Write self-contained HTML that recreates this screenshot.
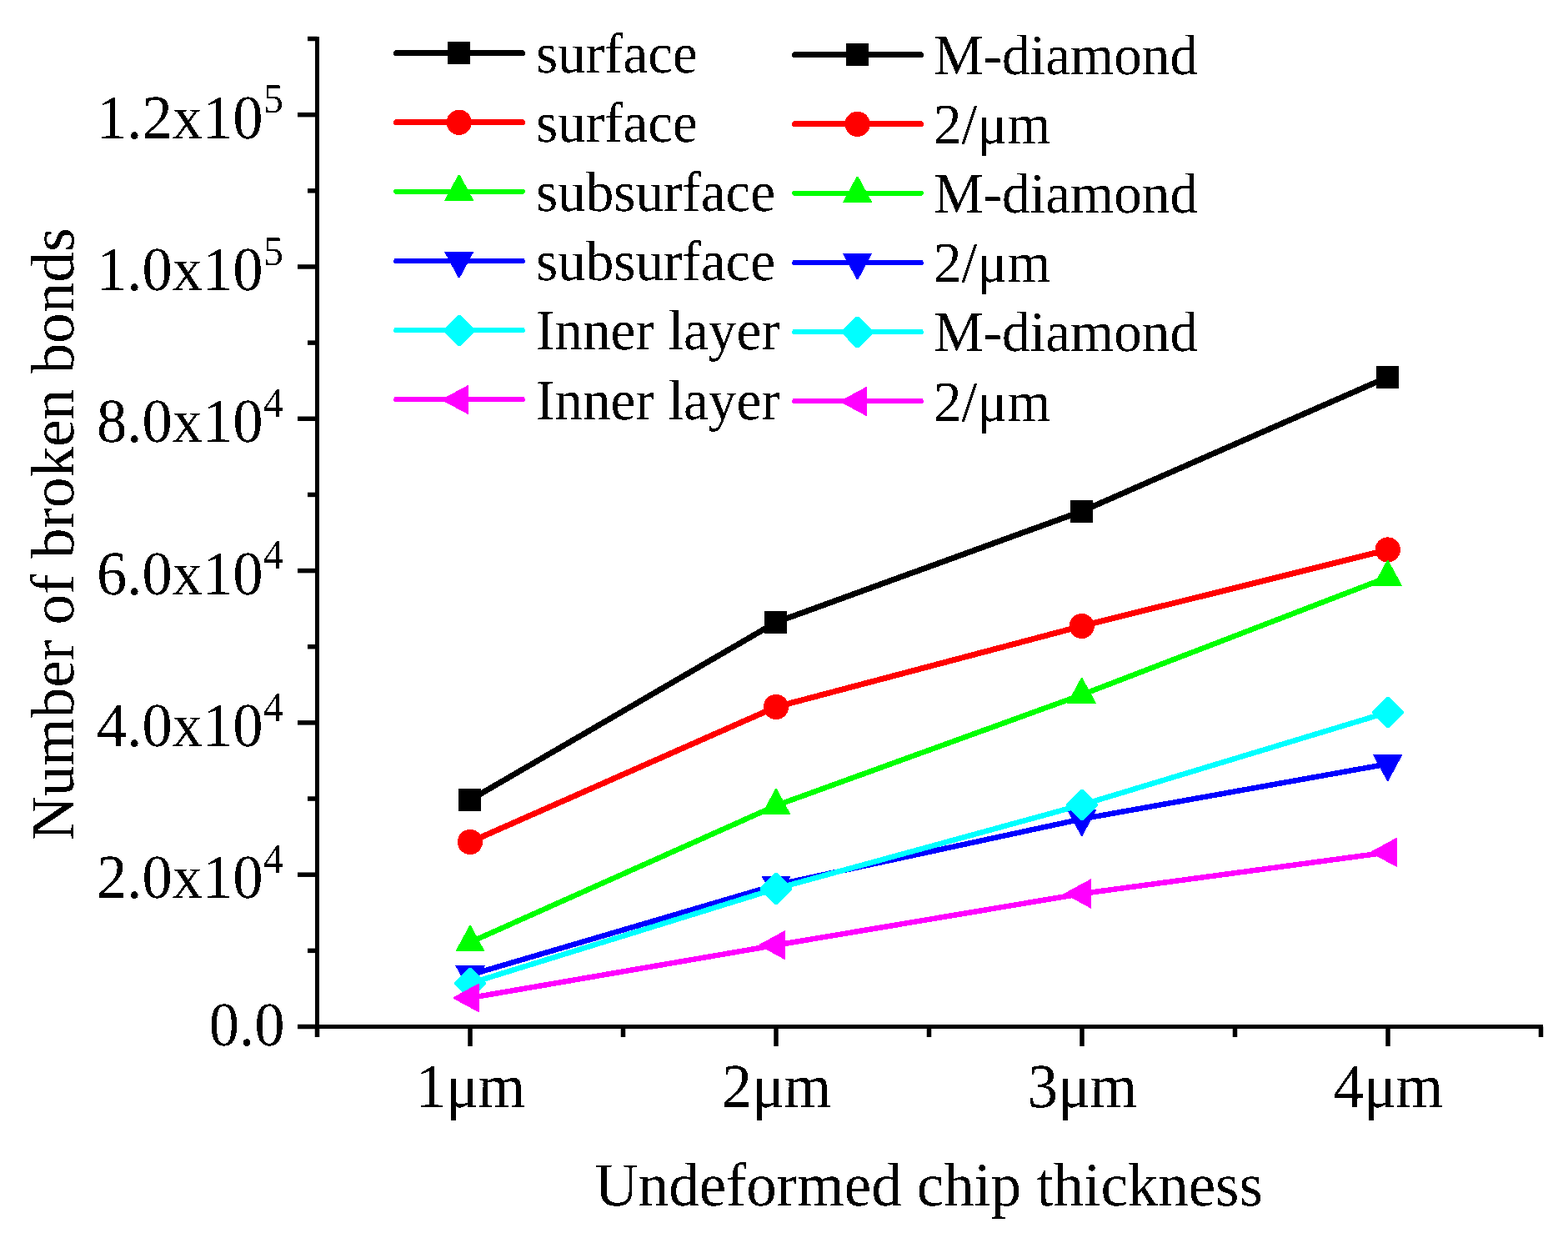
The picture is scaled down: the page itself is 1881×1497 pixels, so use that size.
<!DOCTYPE html>
<html lang="en">
<head>
<meta charset="utf-8">
<title>Number of broken bonds vs. undeformed chip thickness</title>
<style>
html,body{margin:0;padding:0;background:#ffffff;}
body{width:1881px;height:1497px;overflow:hidden;}
svg{display:block;}
text{white-space:pre;}
</style>
</head>
<body>
<svg width="1881" height="1497" viewBox="0 0 1881 1497" font-family='"Liberation Serif", "DejaVu Serif", serif' fill="#000" text-rendering="geometricPrecision">
<defs><filter id="bw" x="-5%" y="-20%" width="110%" height="140%" color-interpolation-filters="sRGB"><feComponentTransfer><feFuncA type="discrete" tableValues="0 1"/></feComponentTransfer></filter></defs>
<rect width="1881" height="1497" fill="#ffffff"/>
<g id="axes" stroke="#000" stroke-width="5" fill="none">
<line x1="380.5" y1="44.0" x2="380.5" y2="1234.0"/>
<line x1="378.0" y1="1231.5" x2="1851.0" y2="1231.5"/>
<line x1="357.0" y1="1231.50" x2="380.5" y2="1231.50" stroke-width="5.5"/>
<line x1="369.0" y1="1140.35" x2="380.5" y2="1140.35" stroke-width="5.5"/>
<line x1="357.0" y1="1049.19" x2="380.5" y2="1049.19" stroke-width="5.5"/>
<line x1="369.0" y1="958.04" x2="380.5" y2="958.04" stroke-width="5.5"/>
<line x1="357.0" y1="866.88" x2="380.5" y2="866.88" stroke-width="5.5"/>
<line x1="369.0" y1="775.73" x2="380.5" y2="775.73" stroke-width="5.5"/>
<line x1="357.0" y1="684.58" x2="380.5" y2="684.58" stroke-width="5.5"/>
<line x1="369.0" y1="593.42" x2="380.5" y2="593.42" stroke-width="5.5"/>
<line x1="357.0" y1="502.27" x2="380.5" y2="502.27" stroke-width="5.5"/>
<line x1="369.0" y1="411.12" x2="380.5" y2="411.12" stroke-width="5.5"/>
<line x1="357.0" y1="319.96" x2="380.5" y2="319.96" stroke-width="5.5"/>
<line x1="369.0" y1="228.81" x2="380.5" y2="228.81" stroke-width="5.5"/>
<line x1="357.0" y1="137.65" x2="380.5" y2="137.65" stroke-width="5.5"/>
<line x1="369.0" y1="46.50" x2="380.5" y2="46.50" stroke-width="5.5"/>
<line x1="380.50" y1="1231.5" x2="380.50" y2="1244.0" stroke-width="5.5"/>
<line x1="564.00" y1="1231.5" x2="564.00" y2="1255.0" stroke-width="5.5"/>
<line x1="747.50" y1="1231.5" x2="747.50" y2="1244.0" stroke-width="5.5"/>
<line x1="931.00" y1="1231.5" x2="931.00" y2="1255.0" stroke-width="5.5"/>
<line x1="1114.50" y1="1231.5" x2="1114.50" y2="1244.0" stroke-width="5.5"/>
<line x1="1298.00" y1="1231.5" x2="1298.00" y2="1255.0" stroke-width="5.5"/>
<line x1="1481.50" y1="1231.5" x2="1481.50" y2="1244.0" stroke-width="5.5"/>
<line x1="1665.00" y1="1231.5" x2="1665.00" y2="1255.0" stroke-width="5.5"/>
<line x1="1848.50" y1="1231.5" x2="1848.50" y2="1244.0" stroke-width="5.5"/>
</g>
<g id="data" shape-rendering="crispEdges">
<polyline points="564.0,959.5 931.0,746.4 1297.7,613.3 1664.7,452.4" fill="none" stroke="#000000" stroke-width="7.0" stroke-linejoin="round" stroke-linecap="round"/>
<rect x="550" y="946" width="27" height="27" fill="#000000"/>
<rect x="917" y="733" width="27" height="27" fill="#000000"/>
<rect x="1284" y="600" width="27" height="27" fill="#000000"/>
<rect x="1651" y="439" width="27" height="27" fill="#000000"/>
<polyline points="564.0,1010.0 931.0,848.0 1297.7,751.0 1664.7,659.5" fill="none" stroke="#ff0000" stroke-width="7.0" stroke-linejoin="round" stroke-linecap="round"/>
<circle cx="564" cy="1010" r="15.1" fill="#ff0000"/>
<circle cx="931" cy="848" r="15.1" fill="#ff0000"/>
<circle cx="1297.7" cy="751" r="15.1" fill="#ff0000"/>
<circle cx="1664.7" cy="659.5" r="15.1" fill="#ff0000"/>
<polyline points="564.0,1130.3 931.0,966.3 1297.7,833.4 1664.7,692.4" fill="none" stroke="#00ff00" stroke-width="6.5" stroke-linejoin="round" stroke-linecap="round"/>
<polygon points="563.2,1110 564.8,1110 581.7,1141.3 546.3,1141.3" fill="#00ff00"/>
<polygon points="930.2,946 931.8,946 948.7,977.3 913.3,977.3" fill="#00ff00"/>
<polygon points="1296.9,813.1 1298.5,813.1 1315.4,844.4 1280,844.4" fill="#00ff00"/>
<polygon points="1663.9,672.1 1665.5,672.1 1682.4,703.4 1647,703.4" fill="#00ff00"/>
<polyline points="564.0,1169.4 931.0,1061.5 1297.7,982.4 1664.7,916.4" fill="none" stroke="#0000ff" stroke-width="6.5" stroke-linejoin="round" stroke-linecap="round"/>
<polygon points="563.2,1189.7 564.8,1189.7 581.7,1158.4 546.3,1158.4" fill="#0000ff"/>
<polygon points="930.2,1081.8 931.8,1081.8 948.7,1050.5 913.3,1050.5" fill="#0000ff"/>
<polygon points="1296.9,1002.7 1298.5,1002.7 1315.4,971.4 1280,971.4" fill="#0000ff"/>
<polygon points="1663.9,936.7 1665.5,936.7 1682.4,905.4 1647,905.4" fill="#0000ff"/>
<polyline points="564.0,1179.5 931.0,1066.0 1297.7,965.5 1664.7,854.5" fill="none" stroke="#00ffff" stroke-width="6.5" stroke-linejoin="round" stroke-linecap="round"/>
<polygon points="562.5,1160.9 565.5,1160.9 583.2,1178.6 583.2,1180.4 565.5,1198.1 562.5,1198.1 544.8,1180.4 544.8,1178.6" fill="#00ffff"/>
<polygon points="929.5,1047.4 932.5,1047.4 950.2,1065.1 950.2,1066.9 932.5,1084.6 929.5,1084.6 911.8,1066.9 911.8,1065.1" fill="#00ffff"/>
<polygon points="1296.2,946.9 1299.2,946.9 1316.9,964.6 1316.9,966.4 1299.2,984.1 1296.2,984.1 1278.5,966.4 1278.5,964.6" fill="#00ffff"/>
<polygon points="1663.2,835.9 1666.2,835.9 1683.9,853.6 1683.9,855.4 1666.2,873.1 1663.2,873.1 1645.5,855.4 1645.5,853.6" fill="#00ffff"/>
<polyline points="564.0,1197.0 931.0,1133.7 1297.7,1072.0 1664.7,1022.4" fill="none" stroke="#ff00ff" stroke-width="6.5" stroke-linejoin="round" stroke-linecap="round"/>
<polygon points="543.7,1196.2 543.7,1197.8 575.2,1214.8 575.2,1179.2" fill="#ff00ff"/>
<polygon points="910.7,1132.9 910.7,1134.5 942.2,1151.5 942.2,1115.9" fill="#ff00ff"/>
<polygon points="1277.4,1071.2 1277.4,1072.8 1308.9,1089.8 1308.9,1054.2" fill="#ff00ff"/>
<polygon points="1644.4,1021.6 1644.4,1023.2 1675.9,1040.2 1675.9,1004.6" fill="#ff00ff"/>
</g>
<g id="legend-marks" shape-rendering="crispEdges">
<line x1="475.5" y1="63.5" x2="626.5" y2="63.5" stroke="#000000" stroke-width="7.0" stroke-linecap="round"/>
<rect x="537" y="50" width="27" height="27" fill="#000000"/>
<line x1="475.5" y1="146.5" x2="626.5" y2="146.5" stroke="#ff0000" stroke-width="7.0" stroke-linecap="round"/>
<circle cx="550.7" cy="146.8" r="15.1" fill="#ff0000"/>
<line x1="475.5" y1="229.8" x2="626.5" y2="229.8" stroke="#00ff00" stroke-width="6.5" stroke-linecap="round"/>
<polygon points="549.9,209.5 551.5,209.5 568.4,240.8 533,240.8" fill="#00ff00"/>
<line x1="475.5" y1="313.0" x2="626.5" y2="313.0" stroke="#0000ff" stroke-width="6.5" stroke-linecap="round"/>
<polygon points="549.9,333.3 551.5,333.3 568.4,302 533,302" fill="#0000ff"/>
<line x1="475.5" y1="396.0" x2="626.5" y2="396.0" stroke="#00ffff" stroke-width="6.5" stroke-linecap="round"/>
<polygon points="549.2,377.9 552.2,377.9 569.9,395.6 569.9,397.4 552.2,415.1 549.2,415.1 531.5,397.4 531.5,395.6" fill="#00ffff"/>
<line x1="475.5" y1="479.0" x2="626.5" y2="479.0" stroke="#ff00ff" stroke-width="6.5" stroke-linecap="round"/>
<polygon points="530.4,478.7 530.4,480.3 561.9,497.3 561.9,461.7" fill="#ff00ff"/>
<line x1="953.5" y1="65.5" x2="1104.5" y2="65.5" stroke="#000000" stroke-width="7.0" stroke-linecap="round"/>
<rect x="1015" y="52" width="27" height="27" fill="#000000"/>
<line x1="953.5" y1="148.5" x2="1104.5" y2="148.5" stroke="#ff0000" stroke-width="7.0" stroke-linecap="round"/>
<circle cx="1028.6" cy="148.8" r="15.1" fill="#ff0000"/>
<line x1="953.5" y1="231.8" x2="1104.5" y2="231.8" stroke="#00ff00" stroke-width="6.5" stroke-linecap="round"/>
<polygon points="1027.8,211.5 1029.4,211.5 1046.3,242.8 1010.9,242.8" fill="#00ff00"/>
<line x1="953.5" y1="315.0" x2="1104.5" y2="315.0" stroke="#0000ff" stroke-width="6.5" stroke-linecap="round"/>
<polygon points="1027.8,335.3 1029.4,335.3 1046.3,304 1010.9,304" fill="#0000ff"/>
<line x1="953.5" y1="398.0" x2="1104.5" y2="398.0" stroke="#00ffff" stroke-width="6.5" stroke-linecap="round"/>
<polygon points="1027.1,379.9 1030.1,379.9 1047.8,397.6 1047.8,399.4 1030.1,417.1 1027.1,417.1 1009.4,399.4 1009.4,397.6" fill="#00ffff"/>
<line x1="953.5" y1="481.0" x2="1104.5" y2="481.0" stroke="#ff00ff" stroke-width="6.5" stroke-linecap="round"/>
<polygon points="1008.3,480.7 1008.3,482.3 1039.8,499.3 1039.8,463.7" fill="#ff00ff"/>
</g>
<g id="legend-text">
<text transform="translate(643.00 87.00) scale(0.9800 1)" font-size="68.5" text-anchor="start" filter="url(#bw)">surface</text>
<text transform="translate(1120.00 89.00) scale(0.9800 1)" font-size="68.5" text-anchor="start" filter="url(#bw)">M-diamond</text>
<text transform="translate(643.00 170.10) scale(0.9800 1)" font-size="68.5" text-anchor="start" filter="url(#bw)">surface</text>
<text transform="translate(1120.00 172.10) scale(0.9800 1)" font-size="68.5" text-anchor="start" filter="url(#bw)">2/μm</text>
<text transform="translate(643.00 253.20) scale(0.9800 1)" font-size="68.5" text-anchor="start" filter="url(#bw)">subsurface</text>
<text transform="translate(1120.00 255.20) scale(0.9800 1)" font-size="68.5" text-anchor="start" filter="url(#bw)">M-diamond</text>
<text transform="translate(643.00 336.30) scale(0.9800 1)" font-size="68.5" text-anchor="start" filter="url(#bw)">subsurface</text>
<text transform="translate(1120.00 338.30) scale(0.9800 1)" font-size="68.5" text-anchor="start" filter="url(#bw)">2/μm</text>
<text transform="translate(643.00 419.40) scale(0.9800 1)" font-size="68.5" text-anchor="start" filter="url(#bw)">Inner layer</text>
<text transform="translate(1120.00 421.40) scale(0.9800 1)" font-size="68.5" text-anchor="start" filter="url(#bw)">M-diamond</text>
<text transform="translate(643.00 502.50) scale(0.9800 1)" font-size="68.5" text-anchor="start" filter="url(#bw)">Inner layer</text>
<text transform="translate(1120.00 504.50) scale(0.9800 1)" font-size="68.5" text-anchor="start" filter="url(#bw)">2/μm</text>
</g>
<g id="ytick-labels">
<text transform="translate(341.50 1254.00) scale(0.9670 1)" font-size="75" text-anchor="end" filter="url(#bw)">0.0</text>
<text transform="translate(340.00 1077.19) scale(0.9670 1)" font-size="75" text-anchor="end" filter="url(#bw)">2.0x10<tspan font-size="50" dy="-30.3" dx="0.3">4</tspan></text>
<text transform="translate(340.00 894.88) scale(0.9670 1)" font-size="75" text-anchor="end" filter="url(#bw)">4.0x10<tspan font-size="50" dy="-30.3" dx="0.3">4</tspan></text>
<text transform="translate(340.00 712.58) scale(0.9670 1)" font-size="75" text-anchor="end" filter="url(#bw)">6.0x10<tspan font-size="50" dy="-30.3" dx="0.3">4</tspan></text>
<text transform="translate(340.00 530.27) scale(0.9670 1)" font-size="75" text-anchor="end" filter="url(#bw)">8.0x10<tspan font-size="50" dy="-30.3" dx="0.3">4</tspan></text>
<text transform="translate(340.00 347.96) scale(0.9670 1)" font-size="75" text-anchor="end" filter="url(#bw)">1.0x10<tspan font-size="50" dy="-30.3" dx="0.3">5</tspan></text>
<text transform="translate(340.00 165.65) scale(0.9670 1)" font-size="75" text-anchor="end" filter="url(#bw)">1.2x10<tspan font-size="50" dy="-30.3" dx="0.3">5</tspan></text>
</g>
<g id="xtick-labels">
<text transform="translate(564.50 1328.00) scale(0.9670 1)" font-size="75" text-anchor="middle" filter="url(#bw)">1μm</text>
<text transform="translate(931.50 1328.00) scale(0.9670 1)" font-size="75" text-anchor="middle" filter="url(#bw)">2μm</text>
<text transform="translate(1298.50 1328.00) scale(0.9670 1)" font-size="75" text-anchor="middle" filter="url(#bw)">3μm</text>
<text transform="translate(1665.50 1328.00) scale(0.9670 1)" font-size="75" text-anchor="middle" filter="url(#bw)">4μm</text>
</g>
<g id="titles">
<text transform="translate(1114.00 1446.00) scale(0.9850 1)" font-size="74" text-anchor="middle" filter="url(#bw)">Undeformed chip thickness</text>
<text transform="translate(88.0 640.6) rotate(-90) scale(0.99 1)" font-size="74" text-anchor="middle" filter="url(#bw)">Number of broken bonds</text>
</g>
</svg>
</body>
</html>
